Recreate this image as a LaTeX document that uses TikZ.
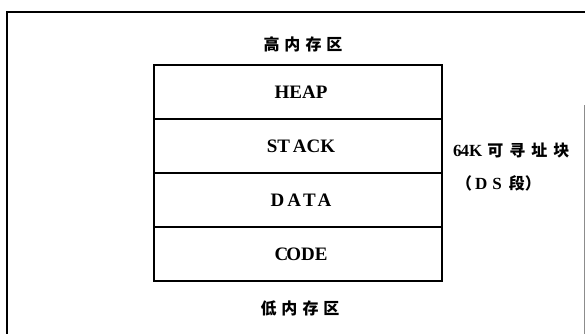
\documentclass[tikz,border=0pt]{standalone}
\usepackage{fontspec}
\setmainfont{Liberation Serif}
\newfontfamily\cjk{Noto Sans CJK SC}
\begin{document}
\begin{tikzpicture}[x=1pt,y=-1pt,
  seg/.style={draw, line width=1.3pt, minimum width=288pt, minimum height=54pt,
    inner sep=0pt, font=\fontsize{19}{21}\selectfont\bfseries, text depth=0pt},
  zone/.style={font=\cjk\bfseries\fontsize{16}{18}\selectfont, inner sep=0pt},
  side/.style={font=\bfseries\fontsize{17}{19}\selectfont, inner sep=0pt, anchor=west}]
  \useasboundingbox (0,0) rectangle (585,333);
  \clip (0,0) rectangle (585,333);
  % outer frame, open at the bottom
  \draw[line width=1.8pt] (7,345) -- (7,12) -- (590,12);
  \draw[line width=0.5pt, black!45] (584,105) -- (584,345);
  % memory segments
  \node[seg] (heap)  at (298,92)  {\kern6pt HEAP};
  \node[seg] (stack) at (298,146) {\kern6pt ST\kern3pt ACK};
  \node[seg] (data)  at (298,200) {\kern6pt D\kern3pt A\kern2pt T\kern2pt A};
  \node[seg] (code)  at (298,254) {\kern6pt C\kern-2pt ODE};
  % zone labels
  \node[zone] (high) at (303,44)  {高\hspace{5pt}内\hspace{5pt}存\hspace{5pt}区};
  \node[zone] (low)  at (300,308) {低\hspace{5pt}内\hspace{5pt}存\hspace{5pt}区};
  % right-hand annotation
  \node[side] (blk) at (453,150) {6\kern-1pt 4K\hspace{5pt}{\cjk\bfseries\fontsize{16}{18}\selectfont 可\hspace{6pt}寻\hspace{6pt}址\hspace{6pt}块}};
  \node[side] (ds)  at (456,183) {{\cjk\bfseries\fontsize{16}{18}\selectfont （}\kern3pt D\hspace{5pt}S\hspace{7pt}{\cjk\bfseries\fontsize{16}{18}\selectfont 段）}};
\end{tikzpicture}
\end{document}
